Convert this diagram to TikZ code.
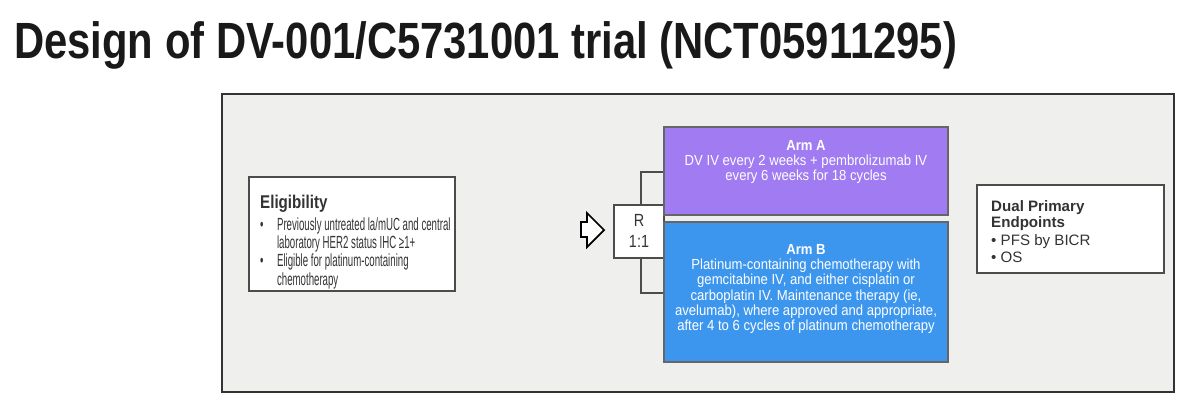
\documentclass[tikz,border=0pt]{standalone}
\usepackage{fontspec}
\setmainfont{Liberation Sans}
\newfontfamily\narrow[FakeStretch=0.82]{Liberation Sans}
\newfontfamily\slim[FakeStretch=0.55]{Liberation Sans}
\newfontfamily\armfont[FakeStretch=0.9]{Liberation Sans}
\usetikzlibrary{positioning}

\definecolor{panelgray}{HTML}{EFEFED}
\definecolor{armpurple}{HTML}{A07BF2}
\definecolor{armblue}{HTML}{3D96EE}
\definecolor{textgray}{HTML}{333333}

\newcommand{\blt}{\makebox[9.6pt][l]{\textbullet}}

\tikzset{
    infobox/.style={draw=black!70, fill=white, line width=0.8pt, inner sep=0pt},
    armbox/.style={draw=black!60, line width=0.6pt, inner sep=0pt},
    armtext/.style={text=white, align=center, font=\armfont\fontsize{8.3}{8.75}\selectfont},
    bodytext/.style={text=textgray, align=left, anchor=north west, font=\slim\fontsize{10}{10.4}\selectfont}
}

\begin{document}
\begin{tikzpicture}[x=0.02cm, y=-0.02cm]
        \useasboundingbox (0,0) rectangle (1200,410);

        % title
        \node[anchor=west, font=\narrow\fontsize{29}{30}\selectfont\bfseries, text=black!90] (title) at (8,45) {Design of DV-001/C5731001 trial (NCT05911295)};

        % panel
        \draw[fill=panelgray, line width=1.2pt, draw=black!80] (222,94) rectangle (1174,392);

        % eligibility
        \draw[infobox] (249,177) rectangle (455,291);
        \node[bodytext] (elig) at (254,189) {{\narrow\bfseries\fontsize{10.5}{12}\selectfont Eligibility}\\[2pt]
            \blt Previously untreated la/mUC and central\\
            \hspace{9.6pt}laboratory HER2 status IHC ≥1+\\
            \blt Eligible for platinum-containing\\
            \hspace{9.6pt}chemotherapy};

        % arrow
        \draw[fill=white, line width=1pt, line join=miter] (581,222) -- (587,222) -- (587,213) -- (604,230)
            -- (587,247) -- (587,237) -- (581,237) -- cycle;

        % randomisation bracket
        \draw[black!70, line width=0.8pt] (664,172) -- (641,172) -- (641,293) -- (664,293);
        \draw[infobox] (614,205) rectangle (664,258);
        \node[text=textgray, align=center, font=\narrow\fontsize{10}{12}\selectfont] (rand) at (639,231) {R\\1:1};

        % arms
        \draw[armbox, fill=armpurple] (664,127) rectangle (948,215);
        \node[armtext] (armA) at (806,162) {\textbf{Arm A}\\DV IV every 2 weeks + pembrolizumab IV\\every 6 weeks for 18 cycles};
        \draw[armbox, fill=armblue] (664,222) rectangle (948,362);
        \node[armtext] (armB) at (806,289) {\textbf{Arm B}\\Platinum-containing chemotherapy with\\gemcitabine IV, and either cisplatin or\\carboplatin IV. Maintenance therapy (ie,\\avelumab), where approved and appropriate,\\after 4 to 6 cycles of platinum chemotherapy};

        % endpoints
        \draw[infobox] (977,185) rectangle (1164,273);
        \node[bodytext, font=\fontsize{8.6}{9.4}\selectfont] (ends) at (985,194) {\textbf{Dual Primary}\\\textbf{Endpoints}\\[1pt]
            \textbullet\ PFS by BICR\\
            \textbullet\ OS};
    \end{tikzpicture}
\end{document}
